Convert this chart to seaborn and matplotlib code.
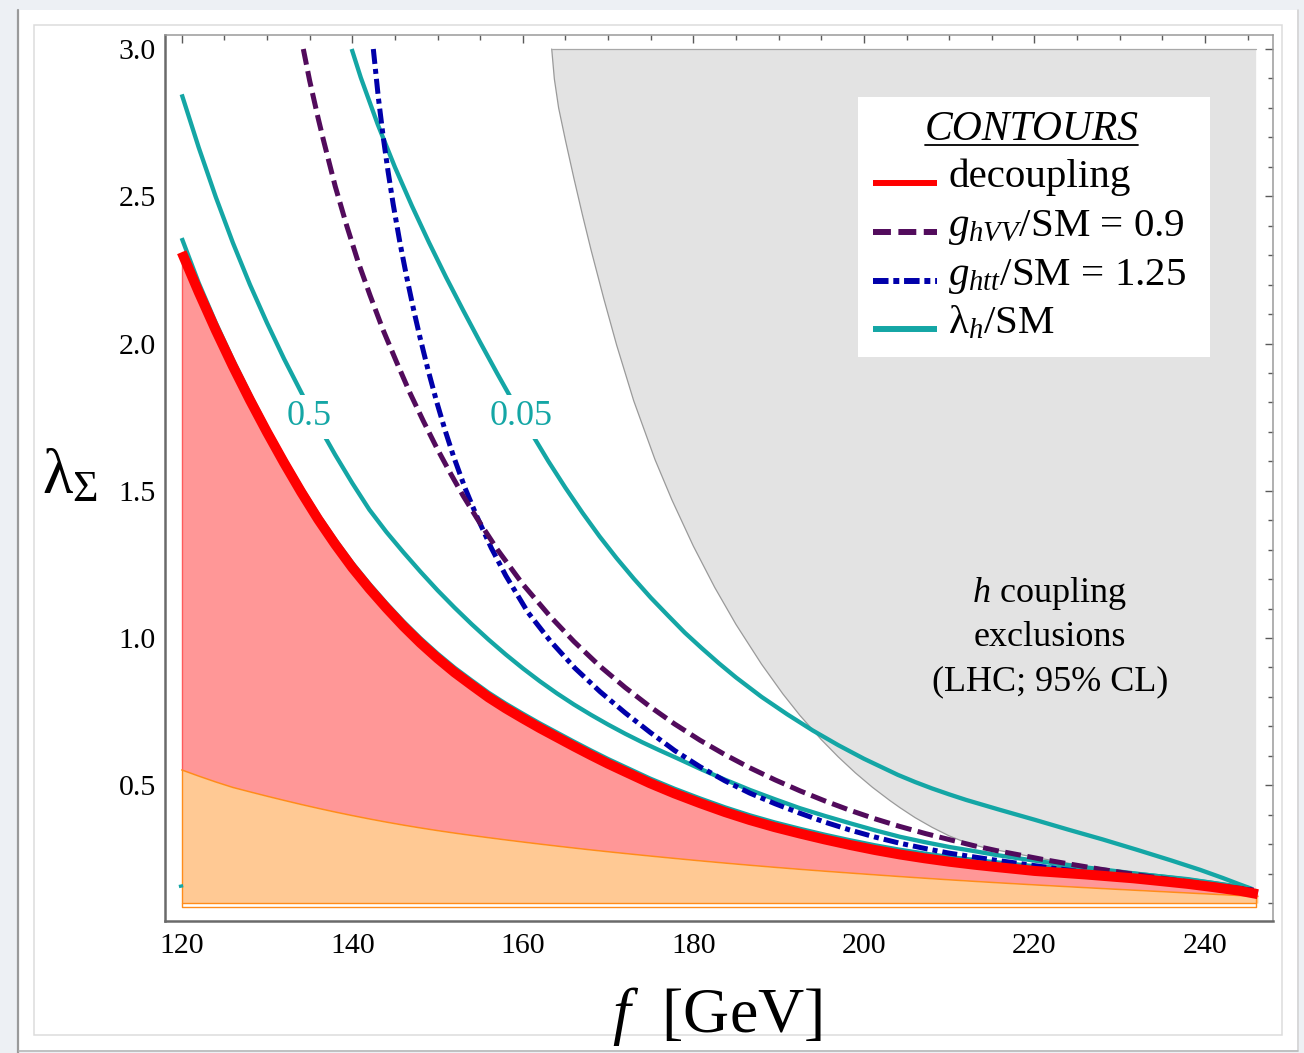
import numpy as np
import matplotlib
matplotlib.use("Agg")
import matplotlib.pyplot as plt
from matplotlib.patches import Rectangle
from matplotlib.lines import Line2D
import seaborn as sns

# ---------------- data ----------------
# decoupling contour, the lambda_h contour hugging it and the upper edge of the orange band
f_dec = [120, 122, 124, 126, 128, 130, 132, 134, 136, 138, 140, 142, 144, 146, 148, 150, 152,
         154, 156, 158, 160, 162, 164, 166, 168, 170, 172, 174.9, 177.8, 180.8, 183.7, 186.6,
         189.5, 192.5, 195.4, 198.4, 201.3, 204.2, 207.1, 210.1, 213, 215.6, 218, 220, 223, 226,
         229, 231.6, 235, 238, 241, 244, 246.2]
lam_dec = [2.310, 2.174, 2.045, 1.923, 1.808, 1.699, 1.595, 1.496, 1.403, 1.318, 1.239, 1.168,
           1.102, 1.040, 0.983, 0.931, 0.883, 0.840, 0.798, 0.761, 0.727, 0.694, 0.663, 0.632,
           0.602, 0.573, 0.546, 0.507, 0.472, 0.439, 0.409, 0.382, 0.358, 0.336, 0.316, 0.297,
           0.280, 0.265, 0.252, 0.240, 0.230, 0.222, 0.215, 0.209, 0.203, 0.197, 0.190, 0.184,
           0.174, 0.165, 0.154, 0.142, 0.130]
lam_h_1 = [2.358, 2.205, 2.070, 1.945, 1.828, 1.715, 1.611, 1.512, 1.419, 1.334, 1.255, 1.184,
           1.118, 1.056, 0.999, 0.947, 0.899, 0.856, 0.814, 0.777, 0.743, 0.710, 0.679, 0.648,
           0.618, 0.589, 0.562, 0.523, 0.488, 0.455, 0.425, 0.398, 0.374, 0.352, 0.332, 0.313,
           0.296, 0.281, 0.268, 0.256, 0.246, 0.238, 0.231, 0.225, 0.219, 0.213, 0.206, 0.200,
           0.190, 0.181, 0.168, 0.153, 0.136]
lam_orange = [0.552, 0.531, 0.511, 0.4925, 0.4775, 0.4628, 0.4486, 0.4348, 0.4216, 0.409, 0.397,
              0.3856, 0.3748, 0.3646, 0.355, 0.346, 0.3375, 0.3295, 0.3218, 0.3144, 0.3072, 0.3002,
              0.2934, 0.2868, 0.2804, 0.2742, 0.2682, 0.2597, 0.2515, 0.2433, 0.2357, 0.2284,
              0.2214, 0.2145, 0.2081, 0.2018, 0.1958, 0.1899, 0.1843, 0.1787, 0.1735, 0.169,
              0.165, 0.1617, 0.1569, 0.1522, 0.1476, 0.1437, 0.1386, 0.1342, 0.1298, 0.1255, 0.1225]
lam_floor = 0.1

# lambda_h/SM = 0.5 contour
f_lh05 = [120, 122, 124, 126, 128, 130, 132, 134.07, 136, 138, 140, 142, 144, 146, 148, 150, 152,
          154, 156, 158, 160, 162, 164, 166, 168, 170, 172, 174, 176, 178, 180.77, 183.7, 186.64,
          189.6, 192.5, 195.4, 198.36, 201.3, 204.22, 207.1, 210.08, 213, 215.56, 218.8, 222, 226,
          231.6, 235.5, 239.4, 242.5, 245.3]
lam_lh05 = [2.846, 2.665, 2.497, 2.342, 2.200, 2.070, 1.948, 1.831, 1.724, 1.622, 1.526, 1.436,
            1.360, 1.291, 1.225, 1.162, 1.103, 1.047, 0.994, 0.944, 0.897, 0.853, 0.812, 0.774,
            0.739, 0.706, 0.675, 0.646, 0.619, 0.593, 0.556, 0.519, 0.484, 0.452, 0.422, 0.396,
            0.371, 0.347, 0.325, 0.307, 0.290, 0.276, 0.263, 0.249, 0.236, 0.221, 0.201, 0.188,
            0.174, 0.162, 0.150]

# lambda_h/SM = 0.05 contour
f_lh005 = [139.93, 141, 143, 145, 147, 149, 151, 153, 155, 157, 159, 161, 163, 165, 167, 169, 171,
           173, 175, 177, 179, 181, 183, 185, 188, 191, 194, 197, 200, 204, 206, 208, 210, 212,
           214, 216, 220, 224, 228, 232, 236, 239.4, 242, 244, 245.5]
lam_lh005 = [3.0, 2.903, 2.743, 2.599, 2.467, 2.343, 2.225, 2.113, 2.004, 1.898, 1.795, 1.696,
             1.600, 1.510, 1.425, 1.345, 1.271, 1.202, 1.137, 1.077, 1.018, 0.965, 0.914, 0.866,
             0.800, 0.741, 0.686, 0.636, 0.590, 0.535, 0.511, 0.489, 0.469, 0.450, 0.433, 0.416,
             0.383, 0.349, 0.316, 0.281, 0.245, 0.213, 0.186, 0.164, 0.148]

# short piece of a lambda_h contour at the left edge
f_lh_edge = [119.88, 119.96]
lam_lh_edge = [0.163, 0.152]

# g_hVV/SM = 0.9
f_hvv = [134.26, 135, 136, 136.6, 138, 139.35, 140.7, 142.08, 143.6, 145.21, 146.8, 148.33, 149.9,
         151.46, 153, 154.59, 157, 160, 163.19, 166, 169.05, 172, 174.91, 177.8, 180.77, 183.7,
         186.64, 189.6, 192.5, 195.4, 198.36, 201.3, 204.22, 207.2, 210.08, 213, 215.56, 218.3,
         221, 224.4, 227.7, 230.4, 233, 236.2, 239.4, 242.6, 245.7]
lam_hvv = [3.0, 2.893, 2.765, 2.693, 2.534, 2.400, 2.276, 2.164, 2.047, 1.936, 1.830, 1.737, 1.646,
           1.562, 1.483, 1.408, 1.301, 1.1825, 1.074, 0.988, 0.904, 0.832, 0.767, 0.708, 0.653,
           0.604, 0.559, 0.518, 0.481, 0.447, 0.415, 0.386, 0.360, 0.336, 0.315, 0.294, 0.278,
           0.263, 0.248, 0.231, 0.215, 0.203, 0.192, 0.179, 0.167, 0.155, 0.144]

# g_htt/SM = 1.25
f_htt = [142.47, 143.06, 143.64, 144.2, 144.81, 145.6, 146.38, 147.2, 147.94, 148.9, 149.9, 150.9,
         151.85, 153.2, 154.59, 156.3, 158, 160.6, 163.19, 166.1, 169.05, 172, 174.91, 177.8,
         180.77, 183.7, 186.64, 189.6, 192.5, 195.4, 198.36, 201.3, 204.22, 207.2, 210.08, 213,
         215.56, 218.3, 221, 224.4, 227.7, 230.4, 233, 236.2, 239.4, 242.6, 245.7]
lam_htt = [3.0, 2.835, 2.699, 2.584, 2.471, 2.341, 2.226, 2.114, 2.021, 1.909, 1.802, 1.704,
           1.619, 1.511, 1.414, 1.306, 1.212, 1.087, 0.991, 0.898, 0.818, 0.746, 0.680, 0.618,
           0.563, 0.515, 0.473, 0.437, 0.405, 0.375, 0.348, 0.324, 0.303, 0.285, 0.269, 0.256,
           0.245, 0.234, 0.223, 0.210, 0.198, 0.189, 0.181, 0.172, 0.163, 0.153, 0.143]

# LHC higgs-coupling exclusion boundary
f_excl = [163.39, 163.7, 164.2, 165.0, 166.0, 167.0, 168.0, 169.5, 171.0, 173.0, 175.5, 177.5,
          180.0, 182.5, 185.0, 188.0, 190.5, 192.5, 195.0, 197.0, 199.0, 201.0, 203.0, 204.22,
          206.0, 208.0, 210.0, 212.0, 214.0, 215.56, 218.3, 221, 224.4, 227.7, 230.4, 233, 236.2,
          239.4, 242.6, 246]
lam_excl = [3.0, 2.898, 2.80, 2.69, 2.56, 2.436, 2.318, 2.152, 1.995, 1.806, 1.606, 1.468, 1.312,
            1.172, 1.046, 0.911, 0.810, 0.737, 0.655, 0.596, 0.542, 0.493, 0.449, 0.424, 0.390,
            0.357, 0.328, 0.305, 0.289, 0.280, 0.265, 0.250, 0.233, 0.217, 0.205, 0.194, 0.181,
            0.169, 0.157, 0.146]
lam_top = 3.0

x_ticks = [120, 140, 160, 180, 200, 220, 240]
y_ticks = [0.5, 1.0, 1.5, 2.0, 2.5, 3.0]
contour_labels = [("0.5", 134.95, 1.722), ("0.05", 159.8, 1.722)]
legend_labels = ["decoupling", r"$g_{hVV}$/SM = 0.9", r"$g_{htt}$/SM = 1.25",
                 r"$\mathrm{\lambda}_h$/SM"]
excl_lines = [r"$h$ coupling", "exclusions", "(LHC; 95% CL)"]

# ---------------- style ----------------
sns.set_theme(style="white")
plt.rcParams["font.family"] = ["Liberation Serif", "DejaVu Serif"]
plt.rcParams["mathtext.fontset"] = "custom"
plt.rcParams["mathtext.rm"] = "Liberation Serif"
plt.rcParams["mathtext.it"] = "Liberation Serif:italic"
plt.rcParams["mathtext.bf"] = "Liberation Serif:bold"
plt.rcParams["text.color"] = "black"

RED = "#ff0000"
TEAL = "#14a6a5"
PURPLE = "#520b5c"
BLUE = "#0000aa"
PINK = "#ff9797"
ORANGE_FILL = "#ffc994"
ORANGE_LINE = "#ff8c1a"
GRAY_FILL = "#e3e3e3"

W, H = 1304, 1053
fig = plt.figure(figsize=(W / 100, H / 100), dpi=100, facecolor="#edf0f4")


def fx(px):
    return px / W


def fy(py):
    return 1 - py / H


# notebook-style panel behind the plot
fig.patches.append(Rectangle((fx(19), fy(1050)), fx(1297) - fx(19), fy(10) - fy(1050),
                             transform=fig.transFigure, facecolor="white", edgecolor="none", zorder=-3))
fig.lines.append(Line2D([fx(18), fx(18)], [fy(10), fy(1053)], transform=fig.transFigure,
                        color="#9a9a9a", lw=1.6, zorder=-2))
fig.lines.append(Line2D([fx(1297.5), fx(1297.5)], [fy(10), fy(1050)], transform=fig.transFigure,
                        color="#d4d4d4", lw=1.2, zorder=-2))
fig.lines.append(Line2D([fx(19), fx(1297.5)], [fy(1050.5), fy(1050.5)], transform=fig.transFigure,
                        color="#b8b8b8", lw=1.2, zorder=-2))
fig.patches.append(Rectangle((fx(34), fy(1035)), fx(1282) - fx(34), fy(25) - fy(1035),
                             transform=fig.transFigure, facecolor="none", edgecolor="#dcdcdc",
                             lw=1.1, zorder=-2))

ax = fig.add_axes([fx(165), fy(920.7), fx(1272.7) - fx(165), fy(34.7) - fy(920.7)])
ax.set_facecolor("white")

# exclusion region
excl_poly_x = f_excl + [f_excl[-1], f_excl[0]]
excl_poly_y = lam_excl + [lam_top, lam_top]
ax.fill(excl_poly_x, excl_poly_y, color=GRAY_FILL, lw=0, zorder=1)
sns.lineplot(x=f_excl, y=lam_excl, ax=ax, color="#9a9a9a", lw=0.9, estimator=None, sort=False, zorder=1.1)
ax.plot([f_excl[0], f_excl[-1]], [lam_top, lam_top], color="#a8a8a8", lw=0.9, zorder=1.1)

# allowed bands
ax.fill_between(f_dec, lam_orange, lam_dec, color=PINK, lw=0, zorder=1.5)
ax.fill_between(f_dec, lam_floor, lam_orange, color=ORANGE_FILL, lw=0, zorder=1.5)
ax.plot([f_dec[0], f_dec[0]], [lam_orange[0], lam_dec[0]], color="#ff5a5a", lw=1.0, zorder=1.6)
sns.lineplot(x=f_dec, y=lam_orange, ax=ax, color=ORANGE_LINE, lw=1.1, estimator=None, sort=False, zorder=1.7)
ax.plot([f_dec[0], f_dec[0], f_dec[-1] - 0.2, f_dec[-1] - 0.2],
        [lam_orange[0], 0.088, 0.088, lam_orange[-1]], color=ORANGE_LINE, lw=1.0, zorder=1.7)
ax.plot([f_dec[0], f_dec[-1] - 0.2], [lam_floor, lam_floor], color=ORANGE_LINE, lw=1.0, zorder=1.7)

# lambda_h contours
for fv, lv in [(f_lh05, lam_lh05), (f_lh005, lam_lh005), (f_dec, lam_h_1), (f_lh_edge, lam_lh_edge)]:
    sns.lineplot(x=fv, y=lv, ax=ax, color=TEAL, lw=3.1, estimator=None, sort=False,
                 solid_capstyle="butt", zorder=3)

# coupling contours
sns.lineplot(x=f_htt, y=lam_htt, ax=ax, color=BLUE, lw=3.6, estimator=None, sort=False,
             linestyle=(0, (3.0, 1.0, 1.0, 1.0)), dash_capstyle="butt", zorder=3.3)
sns.lineplot(x=f_hvv, y=lam_hvv, ax=ax, color=PURPLE, lw=3.6, estimator=None, sort=False,
             linestyle=(0, (3.2, 1.3)), dash_capstyle="butt", zorder=3.6)

# decoupling line
sns.lineplot(x=f_dec, y=lam_dec, ax=ax, color=RED, lw=7.2, estimator=None, sort=False,
             solid_capstyle="butt", zorder=4)

# contour labels
for txt, xv, yv in contour_labels:
    ax.text(xv, yv, txt, color=TEAL, fontsize=26, ha="center", va="baseline", zorder=5,
            bbox=dict(boxstyle="square,pad=0.15", facecolor="white", edgecolor="none"))

# exclusion region annotation
for txt, yv in zip(excl_lines, [1.122, 0.973, 0.823]):
    ax.text(221.8, yv, txt, fontsize=26, ha="center", va="baseline", color="black", zorder=5)

# axes
ax.set_xlim(118.04, 247.94)
ax.set_ylim(0.04, 3.0486)
ax.set_xticks(x_ticks)
ax.set_xticks(np.arange(120, 246, 5), minor=True)
ax.set_yticks(y_ticks)
ax.set_yticks(np.arange(0.1, 3.01, 0.1), minor=True)
ax.set_yticklabels([f"{v:.1f}" for v in y_ticks])
ax.set_xlabel("")
ax.set_ylabel("")
ax.tick_params(which="both", direction="in", top=True, right=True, labeltop=False,
               labelright=False, color="#5a5a5a", width=1.0, labelsize=21.5, labelcolor="black")
ax.tick_params(which="major", length=5.8)
ax.tick_params(which="minor", length=3.6)
ax.tick_params(axis="y", which="major", pad=6.5)
ax.tick_params(axis="x", which="major", pad=8.5)
for side in ["left", "bottom"]:
    ax.spines[side].set_color("#6a6a6a")
    ax.spines[side].set_linewidth(1.8)
for side in ["top", "right"]:
    ax.spines[side].set_color("#9a9a9a")
    ax.spines[side].set_linewidth(1.1)
ax.grid(False)

# axis titles
fig.text(fx(717), fy(1032), r"$f$  [GeV]", fontsize=46, ha="center", va="baseline")
fig.text(fx(42), fy(493), r"$\mathrm{\lambda}_{\Sigma}$", fontsize=45, ha="left", va="baseline")


# legend panel
def axx(px):
    return (px - 165) / (1272.7 - 165)


def axy(py):
    return (920.7 - py) / (920.7 - 34.7)


ax.add_patch(Rectangle((axx(858.3), axy(356.7)), axx(1210) - axx(858.3), axy(96.7) - axy(356.7),
                       transform=ax.transAxes, facecolor="white", edgecolor="none", zorder=6))
ax.text(axx(1031.7), axy(140), "CONTOURS", transform=ax.transAxes, fontsize=30, style="italic",
        ha="center", va="baseline", zorder=7)
ax.plot([axx(925), axx(1138.3)], [axy(144.5), axy(144.5)], transform=ax.transAxes, color="black",
        lw=1.3, zorder=7)
legend_styles = [
    dict(color=RED, linestyle="-"),
    dict(color=PURPLE, linestyle=(0, (3.0, 1.25))),
    dict(color=BLUE, linestyle=(0, (2.6, 0.8, 1.0, 0.8))),
    dict(color=TEAL, linestyle="-"),
]
row_y = [183.3, 231.7, 281.0, 329.0]
for lab, sty, ry in zip(legend_labels, legend_styles, row_y):
    ax.plot([axx(872.7), axx(936.7)], [axy(ry), axy(ry)], transform=ax.transAxes, lw=4.3,
            solid_capstyle="butt", dash_capstyle="butt", zorder=7, **sty)
    ax.text(axx(948.3), axy(ry + 4), lab, transform=ax.transAxes, fontsize=29.5, ha="left",
            va="baseline", zorder=7)

fig.savefig("out.png", dpi=100, facecolor=fig.get_facecolor())
